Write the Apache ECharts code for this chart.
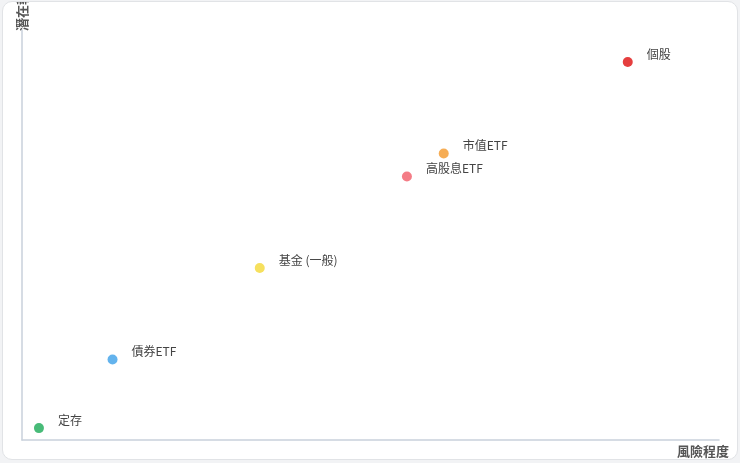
<!DOCTYPE html>
<html>
<head>
<meta charset="utf-8">
<script src="https://cdn.jsdelivr.net/npm/echarts@6/dist/echarts.min.js"></script>
<style>
  html, body { margin: 0; padding: 0; background: #f2f3f5; width: 740px; height: 463px; overflow: hidden; }
  #card { position: absolute; left: 2px; top: 1px; width: 734px; height: 457px; border: 1px solid #e1e3e6; border-radius: 10px; background: #fff; overflow: hidden; }
  #chart { width: 734px; height: 457px; }
</style>
</head>
<body>
<div id="card"><div id="chart"></div></div>
<script>
const names = ['定存', '債券ETF', '基金 (一般)', '高股息ETF', '市值ETF', '個股'];
const risk = [1, 2, 4, 6, 6.5, 9];
const reward = [1, 2.5, 4.5, 6.5, 7, 9];
const colors = ['#48bb78', '#63b3ed', '#f6e05e', '#f47c86', '#f6ad55', '#e53e3e'];
const xAxisName = '風險程度';
const yAxisName = '潛在報酬';

const chart = echarts.init(document.getElementById('chart'));
const data = names.map((n, i) => ({
  name: n,
  value: [risk[i], reward[i]],
  itemStyle: { color: colors[i], opacity: 1 }
}));
chart.setOption({
  animation: false,
  grid: { left: 19, right: 18, top: 28, bottom: 19, outerBoundsMode: 'none', containLabel: false },
  xAxis: {
    type: 'value',
    min: 0.77, max: 10.24,
    name: xAxisName,
    nameLocation: 'end',
    nameGap: 10,
    nameTextStyle: { fontSize: 13, fontWeight: 'bold', color: '#555', align: 'right', verticalAlign: 'top', padding: [5, 0, 0, 0], fontFamily: 'Noto Sans CJK TC' },
    axisLine: { lineStyle: { color: '#c9d1db', width: 1.5 } },
    axisTick: { show: false },
    axisLabel: { show: false },
    splitLine: { show: false }
  },
  yAxis: {
    type: 'value',
    min: 0.74, max: 9.7,
    name: yAxisName,
    nameLocation: 'end',
    nameRotate: 90,
    nameGap: -1,
    nameTextStyle: { fontSize: 13, fontWeight: 'bold', color: '#555', fontFamily: 'Noto Sans CJK TC' },
    axisLine: { lineStyle: { color: '#c9d1db', width: 1.5 } },
    axisTick: { show: false },
    axisLabel: { show: false },
    splitLine: { show: false }
  },
  series: [{
    type: 'scatter',
    symbolSize: 10,
    data: data,
    label: {
      show: true,
      position: 'right',
      offset: [9, -8],
      formatter: '{b}',
      fontSize: 12,
      color: '#444',
      fontFamily: 'Noto Sans CJK TC'
    }
  }]
});
</script>
</body>
</html>
